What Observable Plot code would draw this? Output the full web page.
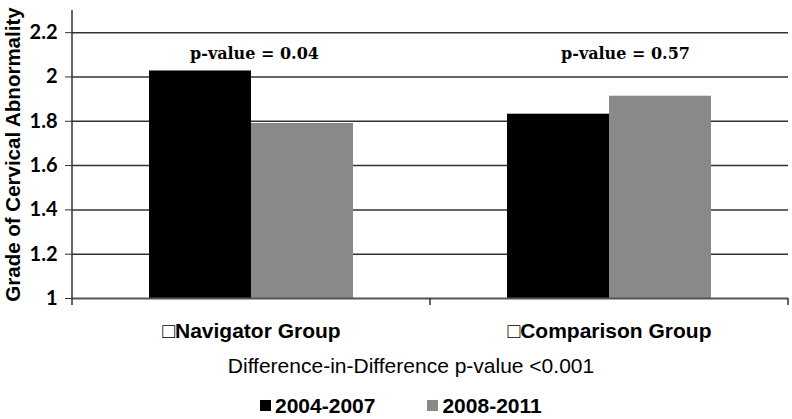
<!DOCTYPE html>
<html>
<head>
<meta charset="utf-8">
<script src="https://cdn.jsdelivr.net/npm/d3@7"></script>
<script src="https://cdn.jsdelivr.net/npm/@observablehq/plot@0.6"></script>
<style>
  body { margin: 0; background: #fff; }
  #wrap { position: relative; width: 792px; height: 419px; overflow: hidden; background: #fff; }
  #wrap > svg { position: absolute; left: 0; top: 0; }
  #diff { position: absolute; left: 0; width: 822px; top: 366px; text-align: center;
          font: 21px "Liberation Sans", Arial, sans-serif; color: #000; white-space: nowrap; line-height: 0; }
  .lgbox { position: absolute; left: 260px; top: 389px; }
  .lg-swatches { font: bold 21px "Liberation Sans", Arial, sans-serif !important; margin: 0 !important; color: #000; }
  .lg-swatch { margin-right: 52px !important; }
  .lg-swatch > svg { margin-right: 4px !important; }
  g[aria-label="y-axis label"] text { font-family: "Liberation Sans", Arial, sans-serif; font-size: 20.5px; font-weight: bold; }
  g[aria-label="y-axis tick label"] text { font-family: Lato, sans-serif; font-size: 20px; font-weight: bold; }
</style>
</head>
<body>
<div id="wrap"></div>
<script>
const groups = ["\u25A1Navigator Group", "\u25A1Comparison Group"];
const periods = ["2004-2007", "2008-2011"];
const navigatorValues = [2.027, 1.79];
const comparisonValues = [1.832, 1.913];
const pValueLabels = ["p-value = 0.04", "p-value = 0.57"];
const yTicks = [1, 1.2, 1.4, 1.6, 1.8, 2, 2.2];
const yTickLabels = ["1", "1.2", "1.4", "1.6", "1.8", "2", "2.2"];
const yDomain = [1, 2.3];
const colors = ["#000000", "#898989"];
const yTitle = "Grade of Cervical Abnormality";
const footnote = "Difference-in-Difference p-value <0.001";

const data = [];
[navigatorValues, comparisonValues].forEach((vals, gi) =>
  vals.forEach((v, pi) => data.push({group: groups[gi], period: periods[pi], value: v})));
const labels = groups.map((g, i) => ({group: g, label: pValueLabels[i]}));

const serif = {fontFamily: "DejaVu Serif", fontSize: 16, fontWeight: "bold", fill: "#000", lineAnchor: "bottom", frameAnchor: "top", dy: 48.5};

const plot = Plot.plot({
  width: 792,
  height: 345,
  marginLeft: 72,
  marginRight: 4,
  marginTop: 10,
  marginBottom: 47,
  style: {background: "white", fontFamily: "Liberation Sans", color: "#000"},
  fx: {domain: groups, padding: 0, label: null},
  x: {domain: periods, paddingInner: 0, paddingOuter: 0.74, axis: null},
  y: {domain: yDomain},
  color: {domain: periods, range: colors},
  marks: [
    Plot.ruleY(yTicks.filter(d => d > 1), {stroke: "#333", strokeWidth: 1.5}),
    Plot.barY(data, {fx: "group", x: "period", y1: yDomain[0], y2: "value", fill: "period"}),
    Plot.ruleY([yDomain[0]], {stroke: "#555", strokeWidth: 2}),
    Plot.axisY({ticks: yTicks, tickFormat: d => yTickLabels[yTicks.indexOf(d)], tickSize: 7, tickPadding: 8,
                label: yTitle, labelAnchor: "center", labelOffset: 67, labelArrow: "none",
                fontFamily: "Lato", fontSize: 20, fontWeight: "bold", stroke: "#333"}),
    Plot.axisFx({anchor: "bottom", tickSize: 0, tickPadding: 24.5, label: null, fontSize: 21, fontWeight: "bold",
                 fontFamily: "Liberation Sans"}),
    Plot.text(labels.slice(0, 1), {...serif, fx: "group", text: "label", dx: 3}),
    Plot.text(labels.slice(1), {...serif, fx: "group", text: "label", dx: 16})
  ]
});

const wrap = document.getElementById("wrap");
wrap.appendChild(plot);

// axis line and band-edge ticks from the library's scales
const svg = d3.select(plot);
const fx = plot.scale("fx"), y = plot.scale("y");
const y0 = y.apply(yDomain[0]), yTop = y.apply(yDomain[1]);
const edges = [...groups.map(g => fx.apply(g)), fx.apply(groups[groups.length - 1]) + fx.bandwidth];
svg.append("line").attr("x1", edges[0]).attr("x2", edges[0]).attr("y1", yTop).attr("y2", y0)
  .attr("stroke", "#333").attr("stroke-width", 1.5);
edges.forEach(e => svg.append("line").attr("x1", e).attr("x2", e).attr("y1", y0).attr("y2", y0 + 7)
  .attr("stroke", "#333").attr("stroke-width", 1.5));

const diff = document.createElement("div");
diff.id = "diff";
diff.textContent = footnote;
wrap.appendChild(diff);

const lgbox = document.createElement("div");
lgbox.className = "lgbox";
lgbox.appendChild(plot.legend("color", {swatchSize: 11, className: "lg"}));
wrap.appendChild(lgbox);
</script>
</body>
</html>
